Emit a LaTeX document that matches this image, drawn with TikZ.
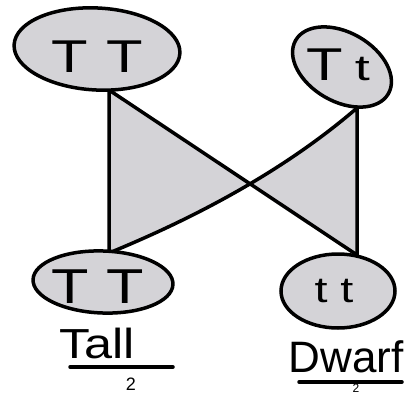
\documentclass[tikz,border=0pt]{standalone}
\usepackage{fontspec}
\setmainfont{Liberation Sans}
\usetikzlibrary{shapes.geometric}
\definecolor{shade}{RGB}{212,211,215}
\tikzset{
  pod/.style={ellipse, draw=black, fill=shade, line width=3.5pt, inner sep=0pt},
  hand/.style={anchor=base, inner sep=0pt, text=black},
  bow/.style={fill=shade, draw=black, line width=3.5pt, line join=round},
  bar/.style={line width=3.5pt, line cap=round}
}
\newcommand{\wide}[2]{\scalebox{#1}[1]{#2}}
\begin{document}
\begin{tikzpicture}[x=1pt, y=-1pt]
  \useasboundingbox (0,0) rectangle (404,396);

  % corners of the crossed shape
  \coordinate (a) at (109,90);
  \coordinate (b) at (109,253);
  \coordinate (c) at (357,108);
  \coordinate (d) at (357,255);

  % shaded bow-tie: straight diagonal, curved diagonal
  \path[bow] (a) -- (d) -- (c) .. controls (292,164) and (209,212) .. (b) -- cycle;

  % parent and offspring pods
  \node[pod, minimum width=166pt, minimum height=82pt, rotate=-3] (tl) at (97,49) {};
  \node[pod, minimum width=107pt, minimum height=69pt, rotate=-30] (tr) at (342,67) {};
  \node[pod, minimum width=140pt, minimum height=62pt, rotate=-2] (bl) at (103,282) {};
  \node[pod, minimum width=114pt, minimum height=74pt] (br) at (338,291) {};

  % genotypes
  \node[hand, font=\fontsize{46}{46}\selectfont] (tltxt) at (97,73) {\wide{1.3}{T\kern14pt T}};
  \node[hand, font=\fontsize{46}{46}\selectfont] (trtxt) at (338,81) {\wide{1.3}{T}\kern12pt{\fontsize{36}{36}\selectfont\wide{1.5}{t}}};
  \node[hand, font=\fontsize{49}{49}\selectfont] (bltxt) at (98,303) {\wide{1.25}{T\kern14pt T}};
  \node[hand, font=\fontsize{36}{36}\selectfont] (brtxt) at (334,302) {\wide{1.3}{t\kern10pt t}};

  % phenotype labels
  \node[hand, font=\fontsize{42}{42}\selectfont] (tall) at (97,358) {\wide{1.2}{Tall}};
  \node[hand, font=\fontsize{44}{44}\selectfont] (dwarf) at (346,372) {Dwarf};
  \draw[bar] (70,367) -- (173,367);
  \draw[bar] (299,382) -- (402,382);
  \node[hand, font=\fontsize{18}{18}\selectfont] (tallratio) at (131,390) {2};
  \node[hand, font=\fontsize{12}{12}\selectfont] (dwarfratio) at (356,392) {2};
\end{tikzpicture}
\end{document}
